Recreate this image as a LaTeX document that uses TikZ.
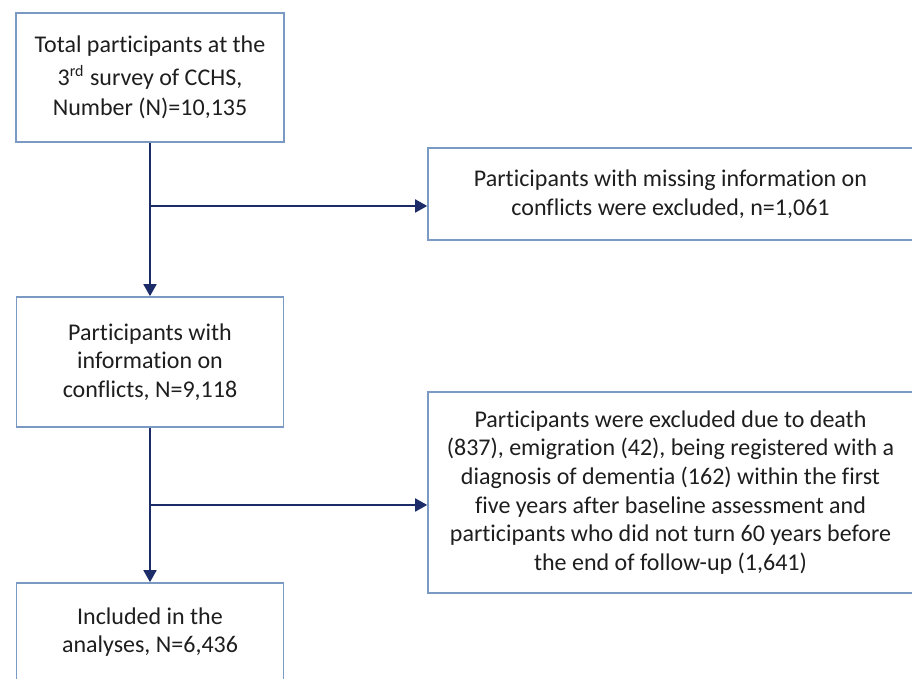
\documentclass[tikz,border=0pt]{standalone}
\usepackage{fontspec}
\setmainfont{Carlito}[Ligatures=NoCommon,RawFeature={-liga;-clig;-calt;-dlig}]
\usepackage{xcolor}
\usetikzlibrary{arrows.meta}
\definecolor{boxline}{RGB}{122,154,196}
\definecolor{arrowblue}{RGB}{28,44,104}
\definecolor{textgray}{RGB}{30,30,30}
\tikzset{
  box/.style={draw=boxline,line width=0.8pt,align=center,text=textgray,
    font=\fontsize{12}{14.3}\selectfont,inner sep=0pt},
  arr/.style={draw=arrowblue,line width=0.9pt,-{Triangle[length=6pt,width=6.5pt]}}
}
\begin{document}
\begin{tikzpicture}
    [x=0.5pt,y=0.5pt]
    \useasboundingbox (0,0) rectangle (912,679);
    \clip (0,0) rectangle (912,679);
    %left column
    \node[box,minimum width=134pt,minimum height=64.5pt] (total) at (150,601.5)
    {Total participants at the\\[2.2pt]3\textsuperscript{rd} survey of CCHS,\\[0.8pt]Number (N)=10,135};
    \node[box,minimum width=133.5pt,minimum height=65pt] (info) at (150,317)
    {Participants with\\information on\\conflicts, N=9,118};
    \node[box,minimum width=133.5pt,minimum height=49pt] (incl) at (150,47)
    {Included in the\\analyses, N=6,436};
    %right column
    \node[box,minimum width=242.5pt,minimum height=46pt] (missing) at (670.5,485)
    {Participants with missing information on\\conflicts were excluded, n=1,061};
    \node[box,minimum width=242.5pt,minimum height=100.5pt] (excl) at (670.5,186.5)
    {Participants were excluded due to death\\(837), emigration (42), being registered with a\\diagnosis of dementia (162) within the first\\five years after baseline assessment and\\participants who did not turn 60 years before\\the end of follow-up (1,641)};
    %branch points
    \coordinate (b1) at (150,473);
    \coordinate (b2) at (150,174);
    %arrows
    \draw[arr] (total.south) -- (info.north);
    \draw[arr] (info.south) -- (incl.north);
    \draw[arr] (b1) -- (b1 -| missing.west);
    \draw[arr] (b2) -- (b2 -| excl.west);
\end{tikzpicture}
\end{document}
